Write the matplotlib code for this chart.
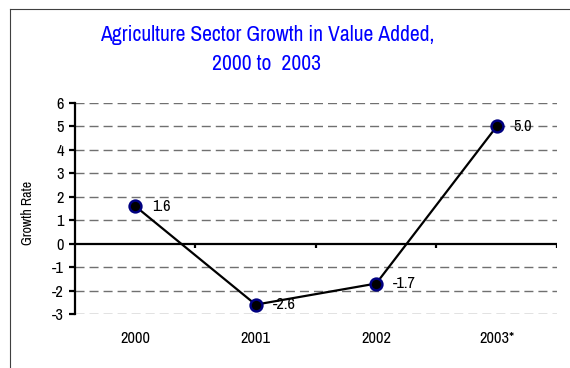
import matplotlib.pyplot as plt
from matplotlib.lines import Line2D

years = ["2000", "2001", "2002", "2003*"]
growth = [1.6, -2.6, -1.7, 5.0]
labels = ["1.6", "-2.6", "-1.7", "5.0"]
yticks = [-3, -2, -1, 0, 1, 2, 3, 4, 5, 6]

plt.rcParams['font.family'] = ['Archivo Narrow', 'Liberation Sans', 'DejaVu Sans']
plt.rcParams['axes.unicode_minus'] = False

fig = plt.figure(figsize=(5.7, 3.68), dpi=100)
ax = fig.add_axes([0.1316, 0.1467, 0.8454, 0.5733])

x = list(range(len(years)))
ax.set_xlim(-0.5, len(years) - 0.5)
ax.set_ylim(-3, 6)

# dashed grid
for v in yticks:
    if v != 0:
        ax.axhline(v, color='#707070', lw=1, linestyle=(0, (6.5, 3.6)), zorder=1)
ax.axhline(0, color='black', lw=1.6, zorder=2)
# category boundary ticks on the zero line
for b in [0.5, 1.5, 2.5, 3.5]:
    ax.plot([b, b], [0, -0.2], color='black', lw=1.6, zorder=2, solid_capstyle='butt')

ax.plot(x, growth, color='black', lw=1.6, marker='o', markersize=8.5,
        markerfacecolor='black', markeredgecolor='#000080', markeredgewidth=1.8, zorder=3)
for xi, yi, t in zip(x, growth, labels):
    ax.annotate(t, (xi, yi), xytext=(12, 0), textcoords='offset points',
                va='center', ha='left', fontsize=11.8, zorder=4)

for s in ['top', 'right', 'bottom']:
    ax.spines[s].set_visible(False)
ax.spines['left'].set_linewidth(1.6)

ax.set_yticks(yticks)
ax.tick_params(axis='y', length=4, width=1.6, pad=4, labelsize=11.8)
ax.set_xticks(x)
ax.set_xticklabels(years)
ax.tick_params(axis='x', length=0, pad=12, labelsize=11.8)

ax.set_ylabel("Growth Rate", fontsize=10)
ax.yaxis.set_label_coords(-0.082, 0.48)

fig.text(267 / 570, 1 - 35 / 368, "Agriculture Sector Growth in Value Added,", ha='center', va='center',
         color='#0000ff', fontsize=15.6, fontweight=500)
fig.text(267 / 570, 1 - 64 / 368, "2000 to  2003", ha='center', va='center',
         color='#0000ff', fontsize=15.6, fontweight=500)

# frame around chart
fig.add_artist(Line2D([10 / 570, 10 / 570], [0, 1 - 9 / 368], color='#404040', lw=0.8))
fig.add_artist(Line2D([10 / 570, 1], [1 - 9 / 368, 1 - 9 / 368], color='#404040', lw=0.8))

fig.savefig("out.png", dpi=100)
